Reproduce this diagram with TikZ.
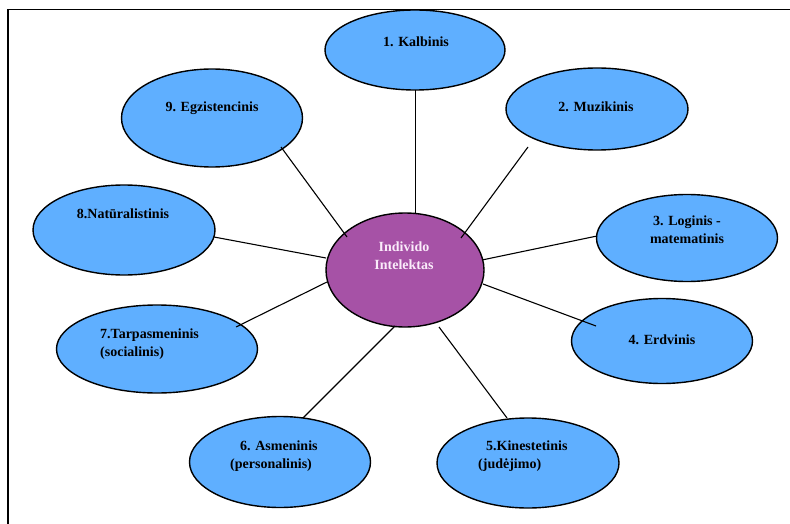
\documentclass[tikz,border=0pt]{standalone}
\usepackage{fontspec}
\setmainfont{Liberation Serif}[BoldFont={Liberation Serif Bold}]
\newfontfamily\timesbold{Liberation Serif Bold}
\usetikzlibrary{shapes.geometric}
\definecolor{ovalblue}{RGB}{95,175,255}
\definecolor{ovalpurple}{RGB}{166,82,166}
\definecolor{lavtext}{RGB}{250,235,250}
\tikzset{
  oval/.style={ellipse, draw=black, line width=1.4pt, fill=ovalblue, inner sep=0pt},
  hub/.style={ellipse, draw=black, line width=1.4pt, fill=ovalpurple, inner sep=0pt},
  lbl/.style={font=\fontsize{14}{18}\timesbold, text=black, inner sep=0pt, align=left},
  hublbl/.style={font=\fontsize{14}{18}\timesbold, text=lavtext, inner sep=0pt, align=center},
  link/.style={draw=black, line width=1.1pt},
  frame/.style={draw=black, line width=1.8pt}
}
\begin{document}
\begin{tikzpicture}[x=1pt, y=-1pt]
\useasboundingbox (0,0) rectangle (790,524);
% frame (open at right and bottom)
\coordinate (fa) at (8,526);
\coordinate (fb) at (8,9.5);
\coordinate (fc) at (792,9.5);
\draw[frame] (fa) -- (fb) -- (fc);

% ovals
\node[hub, minimum width=158pt, minimum height=114pt] (c) at (405,270) {};
\node[oval, minimum width=180pt, minimum height=80pt] (k1) at (415,50) {};
\node[oval, minimum width=182pt, minimum height=82pt] (k2) at (597,109) {};
\node[oval, minimum width=181pt, minimum height=87pt] (k3) at (687,238) {};
\node[oval, minimum width=181pt, minimum height=85pt] (k4) at (662,341) {};
\node[oval, minimum width=182pt, minimum height=90pt] (k5) at (528,463) {};
\node[oval, minimum width=181pt, minimum height=91pt] (k6) at (280,462) {};
\node[oval, minimum width=201pt, minimum height=88pt] (k7) at (157,349) {};
\node[oval, minimum width=182pt, minimum height=90pt] (k8) at (124,230) {};
\node[oval, minimum width=181pt, minimum height=98pt] (k9) at (212,118) {};

% labels
\node[hublbl] (tc) at (404,256) {Individo\\Intelektas};
\node[lbl] (t1) at (416,42) {1. Kalbinis};
\node[lbl] (t2) at (596,107) {2. Muzikinis};
\node[lbl, align=center] (t3) at (687,230) {3. Loginis -\\matematinis};
\node[lbl] (t4) at (662,340) {4. Erdvinis};
\node[lbl, anchor=west] (t5) at (478,456) {\hspace*{8pt}5.Kinestetinis\\(judėjimo)};
\node[lbl, anchor=west] (t6) at (230,456) {\hspace*{10pt}6. Asmeninis\\(personalinis)};
\node[lbl, anchor=west] (t7) at (100,344) {7.Tarpasmeninis\\(socialinis)};
\node[lbl] (t8) at (123,214) {8.Natūralistinis};
\node[lbl] (t9) at (212,108) {9. Egzistencinis};

% connector end points
\coordinate (a1) at (415.5,90);   \coordinate (b1) at (415.5,214);
\coordinate (a2) at (528,147);  \coordinate (b2) at (461,238);
\coordinate (a3) at (597,236);  \coordinate (b3) at (482,260);
\coordinate (a4) at (596,326);  \coordinate (b4) at (483,284);
\coordinate (a5) at (507,418);  \coordinate (b5) at (439,327);
\coordinate (a6) at (303,418);  \coordinate (b6) at (395,326);
\coordinate (a7) at (236,327);  \coordinate (b7) at (327,282);
\coordinate (a8) at (214,237);  \coordinate (b8) at (326,258);
\coordinate (a9) at (281,147);  \coordinate (b9) at (347,237);

\foreach \i in {1,...,9} { \draw[link] (a\i) -- (b\i); }
\end{tikzpicture}
\end{document}
